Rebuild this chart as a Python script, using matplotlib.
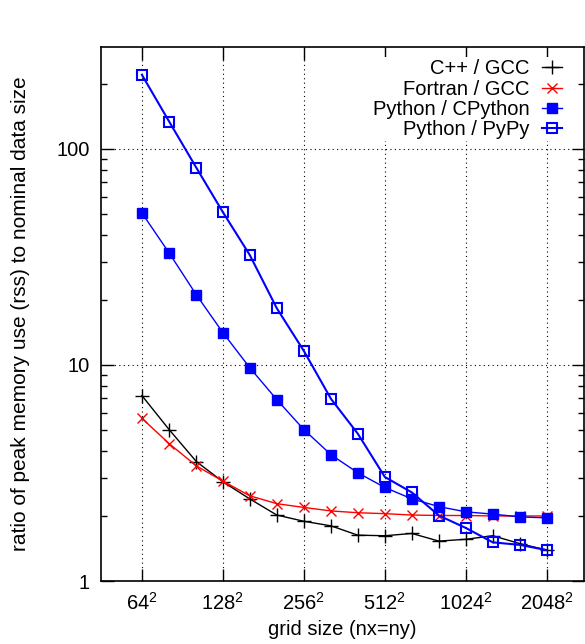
import matplotlib
matplotlib.use("Agg")
import matplotlib.pyplot as plt
from matplotlib.ticker import LogLocator, NullFormatter, FixedLocator, NullLocator

plt.rcParams['font.family'] = ['Liberation Sans', 'DejaVu Sans']
plt.rcParams['mathtext.default'] = 'regular'
plt.rcParams['font.size'] = 14.5

# grid size nx (=ny), 1/3 octave steps
nx = [64, 81, 102, 128, 161, 203, 256, 323, 406, 512, 645, 813, 1024, 1290, 1625, 2048]

# ratio of peak rss to nominal data size
cpp_gcc = [7.21, 5.00, 3.57, 2.88, 2.40, 2.02, 1.89, 1.80, 1.63, 1.62, 1.66, 1.53, 1.56, 1.62, 1.49, 1.39]
fortran_gcc = [5.66, 4.31, 3.41, 2.90, 2.48, 2.28, 2.19, 2.11, 2.07, 2.05, 2.02, 2.01, 2.01, 2.00, 2.00, 2.00]
py_cpython = [50.5, 32.8, 21.1, 14.1, 9.72, 6.91, 5.02, 3.84, 3.17, 2.71, 2.40, 2.21, 2.09, 2.04, 1.98, 1.96]
py_pypy = [220, 133, 81.7, 50.9, 32.3, 18.3, 11.6, 6.96, 4.81, 3.03, 2.57, 2.01, 1.76, 1.51, 1.47, 1.39]

xticks = [64, 128, 256, 512, 1024, 2048]
xticklabels = [str(t) + '$^2$' for t in xticks]

fig = plt.figure(figsize=(5.85, 6.44), dpi=100)
ax = fig.add_axes([0.1726, 0.0978, 0.8254, 0.8292])

ax.plot(nx, cpp_gcc, color='black', lw=1, marker='+', ms=10, mew=1, label='C++ / GCC')
ax.plot(nx, fortran_gcc, color='red', lw=1, marker='x', ms=7.5, mew=1, label='Fortran / GCC')
ax.plot(nx, py_cpython, color='blue', lw=1, marker='s', ms=7.5, mew=1, label='Python / CPython')
ax.plot(nx, py_pypy, color='blue', lw=1.5, marker='s', ms=7.5, mew=1.5, mfc='none', label='Python / PyPy')

ax.set_xscale('log')
ax.set_yscale('log')
ax.set_xlim(45.07, 2812)
ax.set_ylim(1, 296)

ax.xaxis.set_major_locator(FixedLocator(xticks))
ax.set_xticklabels(xticklabels)
ax.xaxis.set_minor_locator(NullLocator())
ax.yaxis.set_minor_locator(LogLocator(base=10, subs=range(2, 10)))
ax.yaxis.set_minor_formatter(NullFormatter())
ax.set_yticks([1, 10, 100])
ax.set_yticklabels(['1', '10', '100'])

ax.tick_params(which='both', direction='in', top=True, right=True, width=1)
ax.tick_params(which='major', length=9, pad=8)
ax.tick_params(which='minor', length=4.5)
for s in ax.spines.values():
    s.set_linewidth(1.2)

ax.grid(True, which='major', color='black', ls=(0, (1, 3)), lw=0.8)

ax.set_xlabel('grid size (nx=ny)', labelpad=4)
ax.set_ylabel('ratio of peak memory use (rss) to nominal data size', fontsize=15, labelpad=19)

leg = ax.legend(loc='upper right', bbox_to_anchor=(0.9585, 0.981), markerfirst=False,
                frameon=True, framealpha=1, edgecolor='none', fancybox=False,
                handlelength=1.0, handletextpad=0.6, labelspacing=0.07,
                borderaxespad=0, borderpad=0.1)

fig.savefig('out.png', dpi=100)
